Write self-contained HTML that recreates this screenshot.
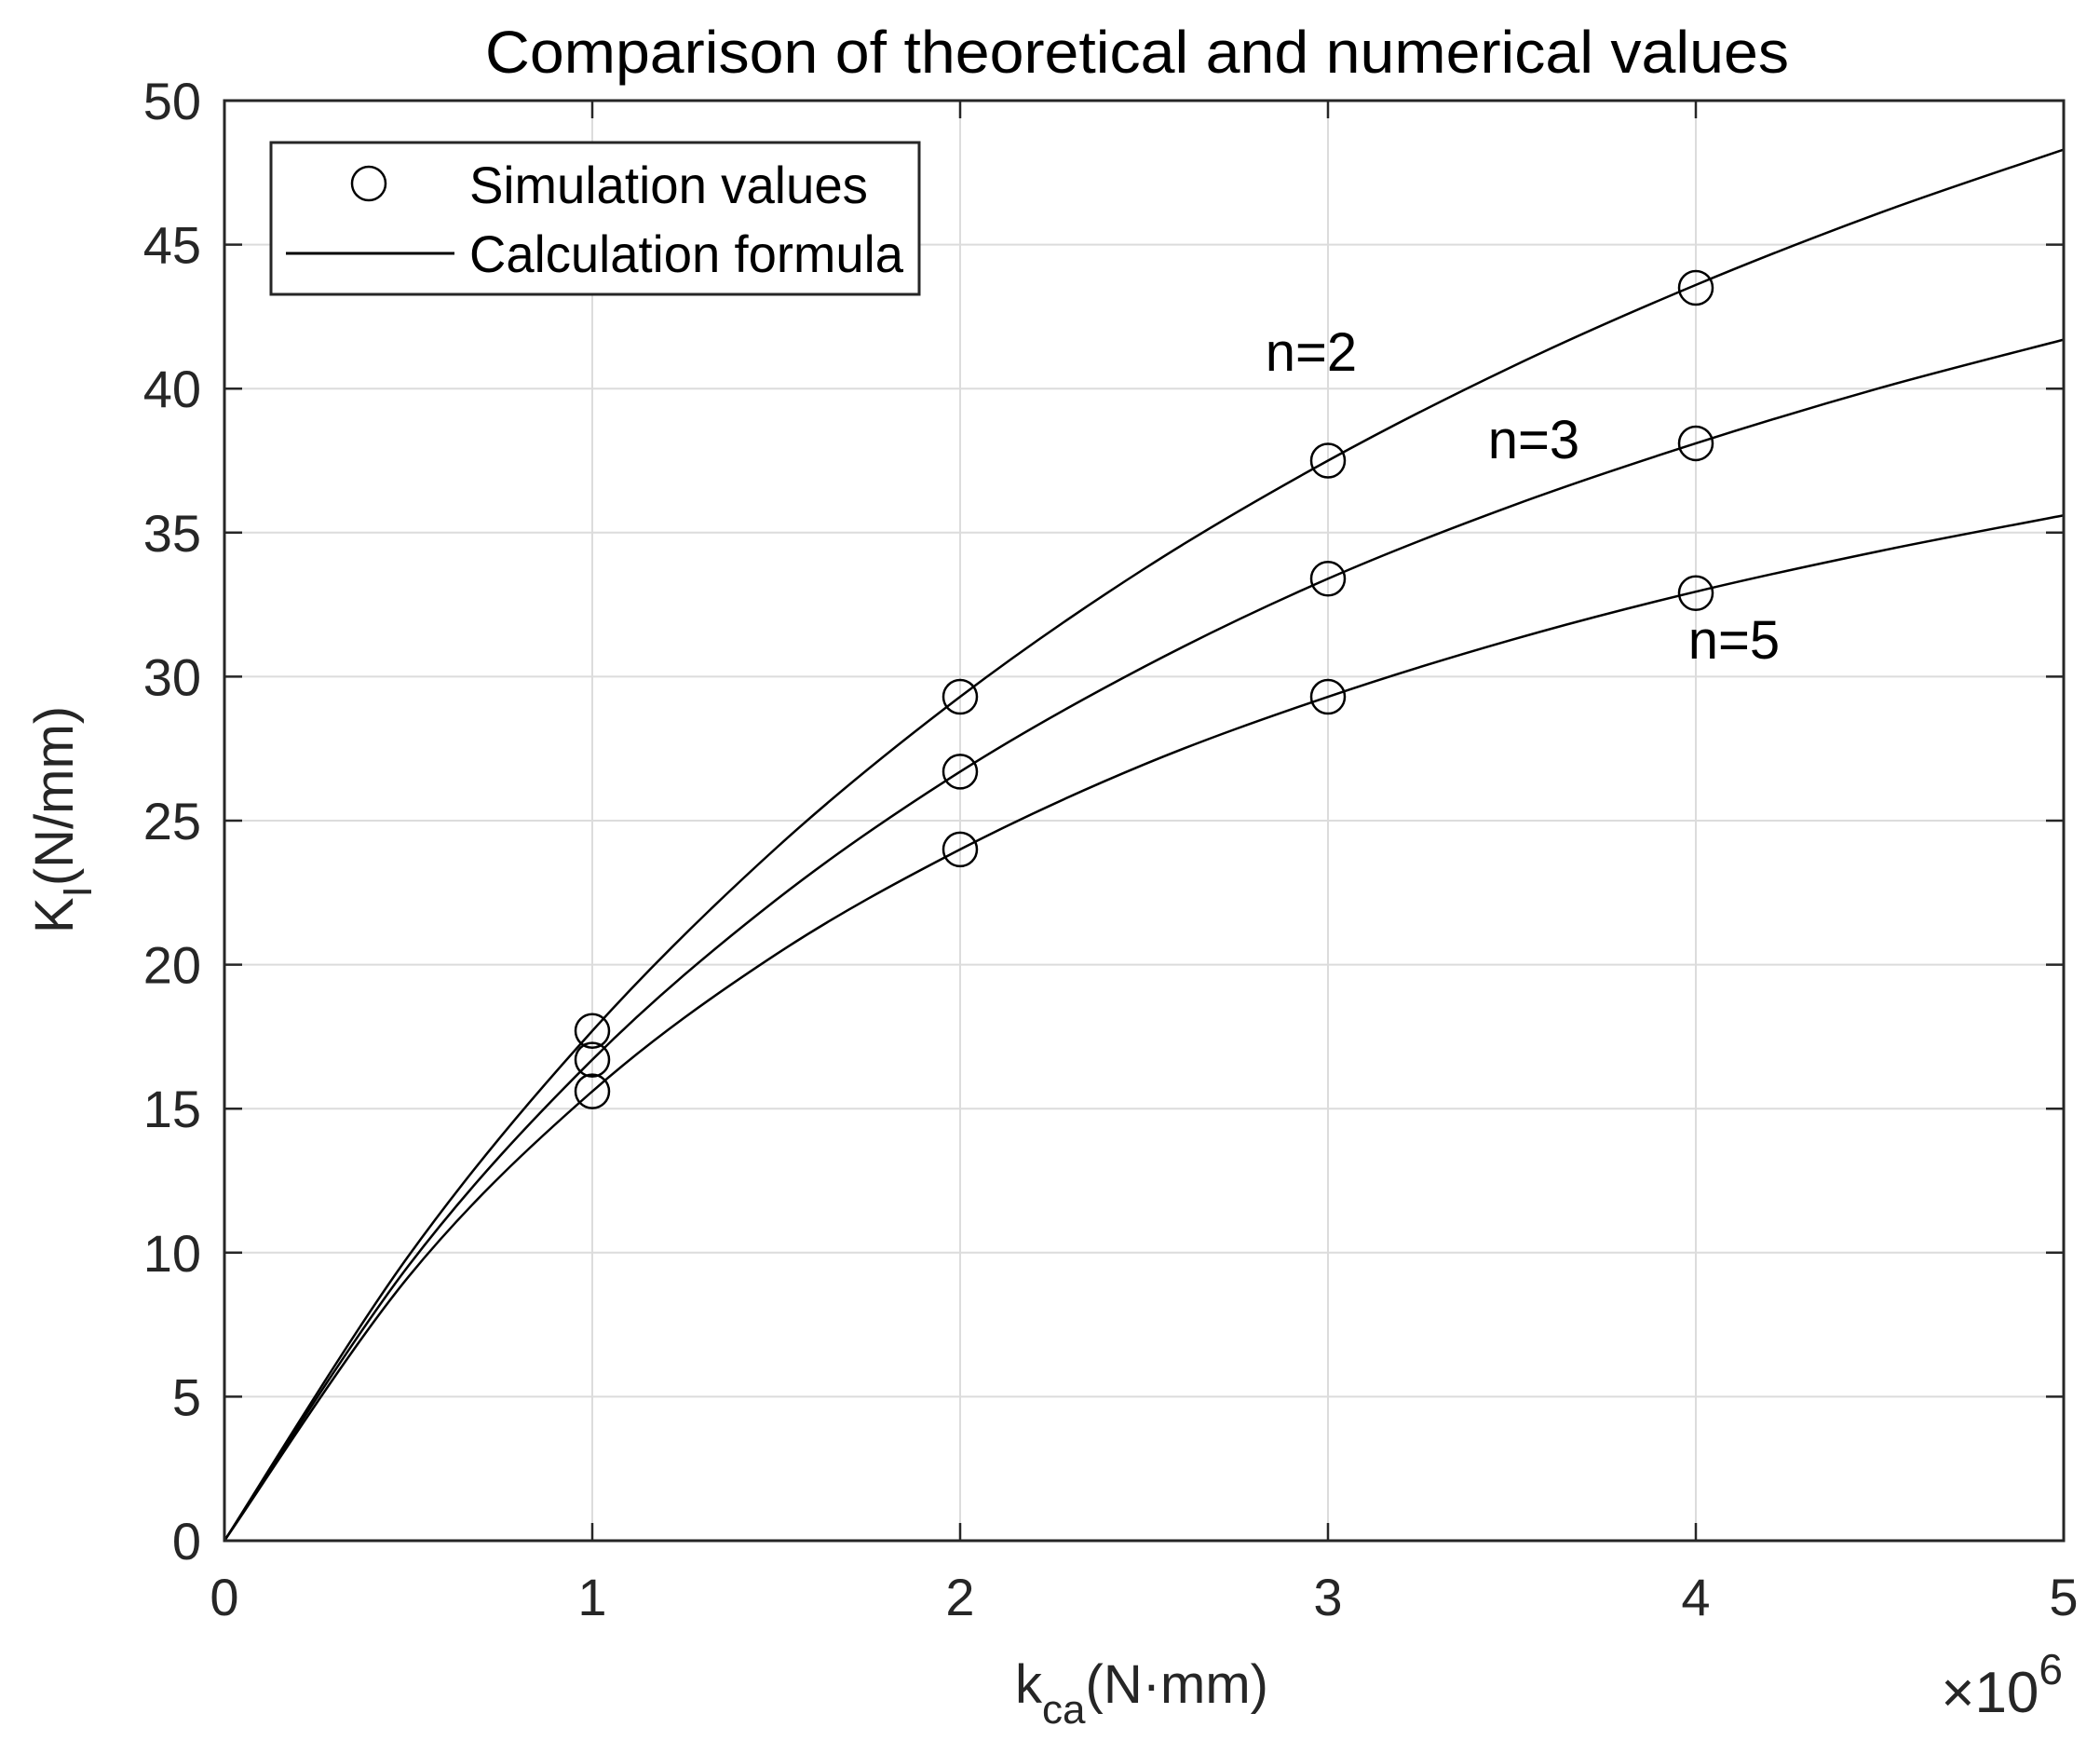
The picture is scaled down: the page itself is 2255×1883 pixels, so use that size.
<!DOCTYPE html>
<html><head><meta charset="utf-8"><style>
html,body{margin:0;padding:0;background:#fff;}
svg{display:block;font-family:"Liberation Sans",Arial,sans-serif;}
</style></head><body>
<svg id="chart" width="2255" height="1883" viewBox="0 0 2255 1883" xmlns="http://www.w3.org/2000/svg">
<rect x="0" y="0" width="2255" height="1883" fill="#fff"/>
<g id="grid"></g>
<g id="curves"></g>
<g id="markers"></g>
<g id="axes"></g>
<text x="1221" y="78" font-size="64" text-anchor="middle" fill="#000" textLength="1400" lengthAdjust="spacingAndGlyphs">Comparison of theoretical and numerical values</text>
<text x="1226" y="1828" font-size="58" text-anchor="middle" fill="#262626">k<tspan font-size="44" dy="22">ca</tspan><tspan dy="-22">(N·mm)</tspan></text>
<text x="2215" y="1838" font-size="62" text-anchor="end" fill="#262626">×10<tspan font-size="46" dy="-30">6</tspan></text>
<text transform="translate(78,880) rotate(-90)" font-size="58" text-anchor="middle" fill="#262626">K<tspan font-size="44" dy="20">I</tspan><tspan dy="-20">(N/mm)</tspan></text>
<text x="1408" y="398" font-size="58" text-anchor="middle" fill="#000">n=2</text>
<text x="1647" y="492" font-size="58" text-anchor="middle" fill="#000">n=3</text>
<text x="1862" y="707" font-size="58" text-anchor="middle" fill="#000">n=5</text>
<g>
<rect x="291" y="153" width="696" height="163" fill="#fff" stroke="#262626" stroke-width="3"/>
<circle cx="396" cy="197" r="18" fill="none" stroke="#000" stroke-width="2.5"/>
<text x="504" y="218" font-size="56" fill="#000" textLength="428" lengthAdjust="spacingAndGlyphs">Simulation values</text>
<line x1="307" y1="272" x2="488" y2="272" stroke="#000" stroke-width="3"/>
<text x="504" y="292" font-size="56" fill="#000" textLength="466" lengthAdjust="spacingAndGlyphs">Calculation formula</text>
</g>
</svg>
<script>
const xTicks = [0,1,2,3,4,5];
const yTicks = [0,5,10,15,20,25,30,35,40,45,50];
const simX = [1,2,3,4];
const simN2 = [17.7,29.3,37.5,43.5];
const simN3 = [16.7,26.7,33.4,38.1];
const simN5 = [15.6,24.0,29.3,32.9];
const curveX = [0,0.5,1,1.5,2,2.5,3,3.5,4,4.5,5];
const curveN2 = [0,9.88,17.7,24.05,29.3,33.74,37.5,40.76,43.6,46.1,48.3];
const curveN3 = [0,9.54,16.7,22.25,26.7,30.34,33.4,35.93,38.1,40.02,41.7];
const curveN5 = [0,9.16,15.6,20.36,24.0,26.95,29.3,31.28,32.95,34.36,35.6];

const L=241,R=2216,T=108,B=1654;
const sx=v=>L+(v-0)/(5-0)*(R-L);
const sy=v=>B-(v-0)/(50-0)*(B-T);
const NS="http://www.w3.org/2000/svg";
function mk(tag,attrs,parent){const e=document.createElementNS(NS,tag);for(const k in attrs)e.setAttribute(k,attrs[k]);parent.appendChild(e);return e;}
const grid=document.getElementById('grid'),axes=document.getElementById('axes'),curves=document.getElementById('curves'),markers=document.getElementById('markers');
xTicks.forEach(t=>{
  const g=mk('line',{x1:sx(t),x2:sx(t),y1:T,y2:B,stroke:'#dcdcdc','stroke-width':2},grid);
  
  
  const tk=mk('line',{x1:sx(t),x2:sx(t),y1:B,y2:B-19,stroke:'#262626','stroke-width':2.5},axes);
  
  
  const tk2=mk('line',{x1:sx(t),x2:sx(t),y1:T,y2:T+19,stroke:'#262626','stroke-width':2.5},axes);
  
  
  const lb=mk('text',{x:sx(t),y:1734,'font-size':56,'text-anchor':'middle',fill:'#262626'},axes);
  lb.textContent=t;
  
  
});
yTicks.forEach(t=>{
  const g=mk('line',{x1:L,x2:R,y1:sy(t),y2:sy(t),stroke:'#dcdcdc','stroke-width':2},grid);
  
  
  const tk=mk('line',{x1:L,x2:L+19,y1:sy(t),y2:sy(t),stroke:'#262626','stroke-width':2.5},axes);
  
  
  const tk2=mk('line',{x1:R,x2:R-19,y1:sy(t),y2:sy(t),stroke:'#262626','stroke-width':2.5},axes);
  
  
  const lb=mk('text',{x:216,y:sy(t)+20,'font-size':56,'text-anchor':'end',fill:'#262626'},axes);
  lb.textContent=t;
  
  
});
const frame=mk('rect',{x:L,y:T,width:R-L,height:B-T,fill:'none',stroke:'#262626','stroke-width':3},axes);


function smoothPath(xs,ys){
  const p=xs.map((x,i)=>[sx(x),sy(ys[i])]);
  let d='M'+p[0][0]+','+p[0][1];
  for(let i=0;i<p.length-1;i++){
    const p0=p[Math.max(0,i-1)],p1=p[i],p2=p[i+1],p3=p[Math.min(p.length-1,i+2)];
    const c1=[p1[0]+(p2[0]-p0[0])/6,p1[1]+(p2[1]-p0[1])/6];
    const c2=[p2[0]-(p3[0]-p1[0])/6,p2[1]-(p3[1]-p1[1])/6];
    d+=' C'+c1[0]+','+c1[1]+' '+c2[0]+','+c2[1]+' '+p2[0]+','+p2[1];
  }
  return d;
}
[[curveN2,'curve-n2'],[curveN3,'curve-n3'],[curveN5,'curve-n5']].forEach(([ys,name])=>{
  const pth=mk('path',{d:smoothPath(curveX,ys),fill:'none',stroke:'#000','stroke-width':2.5},curves);
  
  
});
[[simN2,'sim-point-n2'],[simN3,'sim-point-n3'],[simN5,'sim-point-n5']].forEach(([ys,name])=>{
  simX.forEach((x,i)=>{
    const c=mk('circle',{cx:sx(x),cy:sy(ys[i]),r:18,fill:'none',stroke:'#000','stroke-width':2.5},markers);
    
    
  });
});
</script>
</body></html>
